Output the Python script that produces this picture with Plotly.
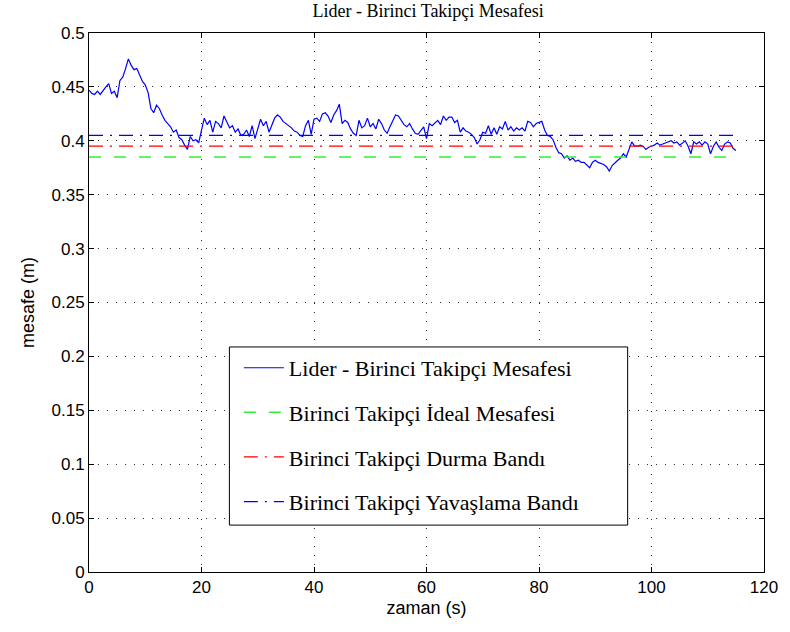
import numpy as np
import plotly.graph_objects as go

# sampling grid (s)
t_start, t_end, t_step = 0.0, 115.0, 0.5

dist_0_20 = [0.447, 0.444, 0.443, 0.446, 0.443, 0.447, 0.450, 0.453, 0.444, 0.446,
             0.440, 0.456, 0.459, 0.467, 0.476, 0.470, 0.466, 0.467, 0.461, 0.455,
             0.452, 0.445, 0.430, 0.426, 0.433, 0.430, 0.424, 0.419, 0.416, 0.413,
             0.408, 0.410, 0.403, 0.401, 0.396, 0.392, 0.404, 0.400, 0.401, 0.398,
             0.410, 0.421]
dist_21_40 = [0.415, 0.419, 0.408, 0.418, 0.416, 0.412, 0.423, 0.418, 0.412, 0.414,
              0.408, 0.411, 0.405, 0.406, 0.410, 0.404, 0.414, 0.402, 0.410, 0.420,
              0.414, 0.418, 0.408, 0.415, 0.421, 0.424, 0.422, 0.418, 0.416, 0.414,
              0.412, 0.409, 0.408, 0.405, 0.404, 0.414, 0.419, 0.406, 0.420, 0.421]
dist_41_60 = [0.418, 0.425, 0.426, 0.423, 0.417, 0.424, 0.428, 0.434, 0.416, 0.419,
              0.417, 0.411, 0.407, 0.405, 0.419, 0.412, 0.414, 0.421, 0.413, 0.416,
              0.411, 0.420, 0.416, 0.410, 0.407, 0.413, 0.419, 0.424, 0.423, 0.419,
              0.415, 0.413, 0.416, 0.411, 0.407, 0.406, 0.410, 0.413, 0.402]
dist_60_79 = [0.416, 0.414, 0.417, 0.419, 0.415, 0.423, 0.419, 0.422, 0.422, 0.417,
              0.419, 0.408, 0.412, 0.409, 0.408, 0.406, 0.403, 0.397, 0.401, 0.408,
              0.407, 0.414, 0.406, 0.412, 0.406, 0.413, 0.411, 0.418, 0.410, 0.413,
              0.409, 0.412, 0.410, 0.412, 0.409, 0.418, 0.417, 0.413, 0.416]
dist_80_99 = [0.417, 0.418, 0.410, 0.405, 0.404, 0.401, 0.394, 0.389, 0.388, 0.384,
              0.386, 0.382, 0.384, 0.381, 0.382, 0.380, 0.380, 0.377, 0.375, 0.380,
              0.382, 0.380, 0.379, 0.378, 0.376, 0.372, 0.377, 0.380, 0.382, 0.384,
              0.388, 0.385, 0.393, 0.399, 0.395, 0.395, 0.396, 0.395, 0.392]
dist_99_115 = [0.394, 0.395, 0.396, 0.398, 0.396, 0.397, 0.398, 0.399, 0.400, 0.398,
               0.399, 0.396, 0.398, 0.400, 0.395, 0.388, 0.399, 0.397, 0.399, 0.396,
               0.399, 0.397, 0.388, 0.395, 0.399, 0.394, 0.391, 0.397, 0.399, 0.398,
               0.393, 0.391]

distance = dist_0_20 + dist_21_40 + dist_41_60 + dist_60_79 + dist_80_99 + dist_99_115
time = np.arange(t_start, t_end + t_step / 2, t_step)[:len(distance)]

band_x = [0, 115]
ideal_dist = 0.385
stop_band = 0.395
slow_band = 0.405

names = ["Lider - Birinci Takipçi Mesafesi",
         "Birinci Takipçi İdeal Mesafesi",
         "Birinci Takipçi Durma Bandı",
         "Birinci Takipçi Yavaşlama Bandı"]

x_ticks = [0, 20, 40, 60, 80, 100, 120]
y_ticks = [0, 0.05, 0.1, 0.15, 0.2, 0.25, 0.3, 0.35, 0.4, 0.45, 0.5]

fig = go.Figure()
fig.add_trace(go.Scatter(x=time, y=distance, mode="lines", name=names[0], legendgroup="a",
                         line=dict(color="#0000ff", width=1.2)))
fig.add_trace(go.Scatter(x=band_x, y=[ideal_dist] * 2, mode="lines", name=names[1], legendgroup="b",
                         line=dict(color="#33ee33", width=1.5, dash="12px,13px")))
fig.add_trace(go.Scatter(x=band_x, y=[stop_band] * 2, mode="lines", name=names[2], legendgroup="c",
                         line=dict(color="#ff0000", width=1.2, dash="14px,7px,2px,7px")))
fig.add_trace(go.Scatter(x=band_x, y=[slow_band] * 2, mode="lines", name=names[3], legendgroup="d",
                         line=dict(color="#0000ff", width=1.2, dash="14px,7px,2px,7px")))

axis_common = dict(showline=True, linecolor="black", linewidth=1, mirror="ticks",
                   ticks="inside", ticklen=5, tickcolor="black",
                   showgrid=True, gridcolor="#333333", gridwidth=1, griddash="1px,8px",
                   zeroline=False,
                   tickfont=dict(family="Liberation Sans, Arial", size=17, color="black"),
                   title_font=dict(family="Liberation Sans, Arial", size=18, color="black"))

fig.update_xaxes(range=[0, 120], tickvals=x_ticks, title_text="zaman (s)",
                 title_standoff=4, **axis_common)
fig.update_yaxes(range=[0, 0.5], tickvals=y_ticks, title_text="mesafe (m)",
                 title_standoff=12, **axis_common)

# legend frame (drawn as a box behind the transparent legend)
fig.add_shape(type="rect", xref="paper", yref="paper",
              x0=0.208, x1=0.798, y0=0.087, y1=0.4175,
              line=dict(color="black", width=1), fillcolor="white", layer="above")

fig.update_layout(
    width=790, height=632,
    margin=dict(l=89, r=22, t=33, b=60),
    paper_bgcolor="white", plot_bgcolor="white",
    title=dict(text="Lider - Birinci Takipçi Mesafesi", x=0.542, xanchor="center",
               y=0.993, yanchor="top",
               font=dict(family="Liberation Serif, serif", size=18, color="black")),
    legend=dict(x=0.222, xanchor="left", y=0.4175, yanchor="top",
                bgcolor="rgba(0,0,0,0)", borderwidth=0,
                font=dict(family="Liberation Serif, serif", size=22, color="black"),
                tracegroupgap=13, itemwidth=40),
    showlegend=True,
)

fig.write_html("out.html")
